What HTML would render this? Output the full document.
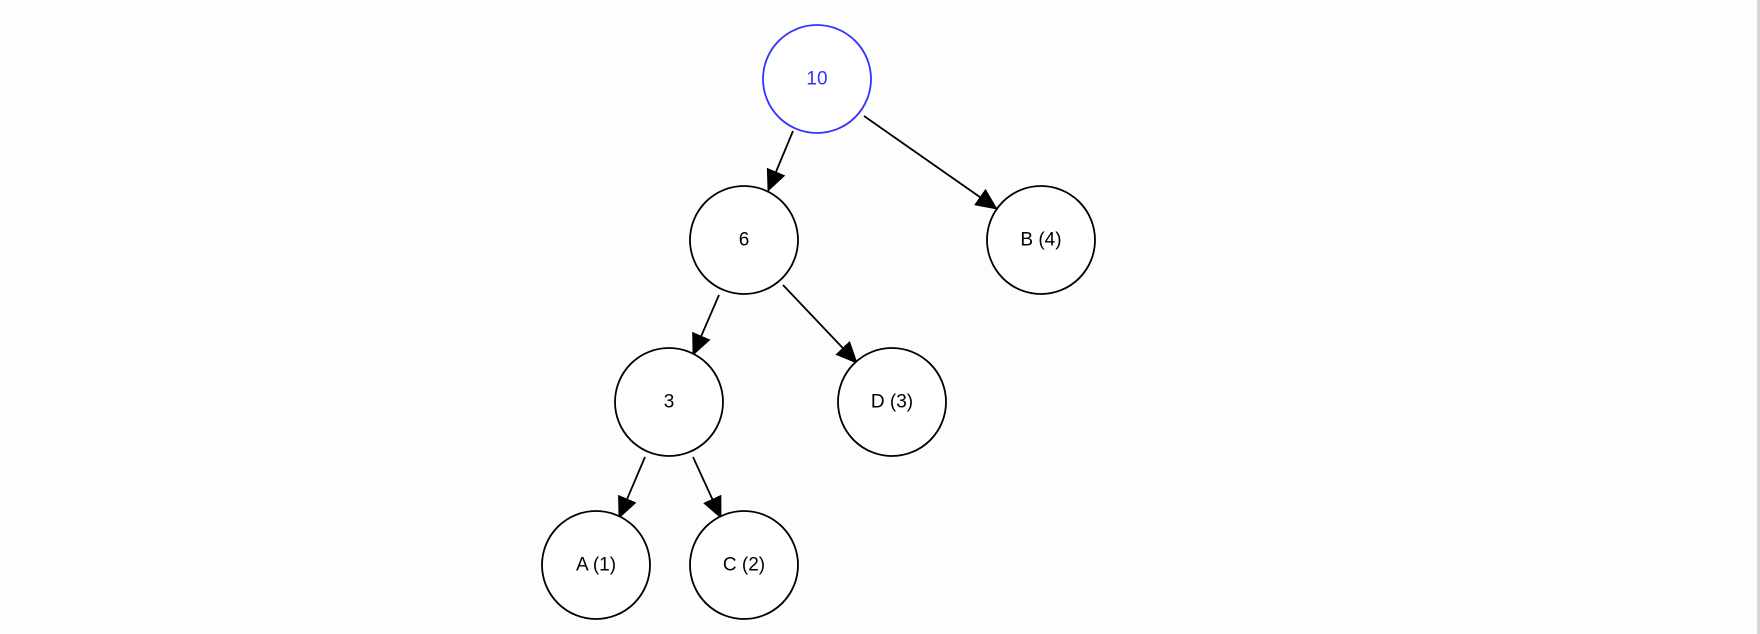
<!DOCTYPE html>
<html><head><style>
html,body{margin:0;padding:0;background:#fdfdfd;}
svg{display:block;}
text{font-family:"Liberation Sans",Arial,sans-serif;font-size:19px;text-anchor:middle;dominant-baseline:central;}
</style></head><body>
<svg width="1760" height="634" viewBox="0 0 1760 634">
<defs>
<marker id="m" markerWidth="22" markerHeight="20" refX="21" refY="10" orient="auto" markerUnits="userSpaceOnUse"><path d="M0,0 L22,10 L0,20 z" fill="#000"/></marker></defs>
<rect x="1757" y="0" width="3" height="634" fill="#d6d6d6"/>
<g stroke="#000" stroke-width="1.8" fill="none" marker-end="url(#m)">
<line x1="793" y1="131" x2="768" y2="191"/>
<line x1="864" y1="116" x2="997" y2="209"/>
<line x1="719" y1="295" x2="693" y2="355"/>
<line x1="783" y1="285" x2="857" y2="363"/>
<line x1="645" y1="457" x2="619" y2="518"/>
<line x1="693" y1="457" x2="721" y2="518"/>
</g>
<g fill="#fff" stroke="#000" stroke-width="1.8">
<circle cx="817" cy="79" r="54" stroke="#3333ff"/>
<circle cx="744" cy="240" r="54"/>
<circle cx="1041" cy="240" r="54"/>
<circle cx="669" cy="402" r="54"/>
<circle cx="892" cy="402" r="54"/>
<circle cx="596" cy="565" r="54"/>
<circle cx="744" cy="565" r="54"/>
</g>
<text x="817" y="79" fill="#3333ff">10</text>
<text x="744" y="240">6</text>
<text x="1041" y="240">B (4)</text>
<text x="669" y="402">3</text>
<text x="892" y="402">D (3)</text>
<text x="596" y="565">A (1)</text>
<text x="744" y="565">C (2)</text>
</svg>
</body></html>
